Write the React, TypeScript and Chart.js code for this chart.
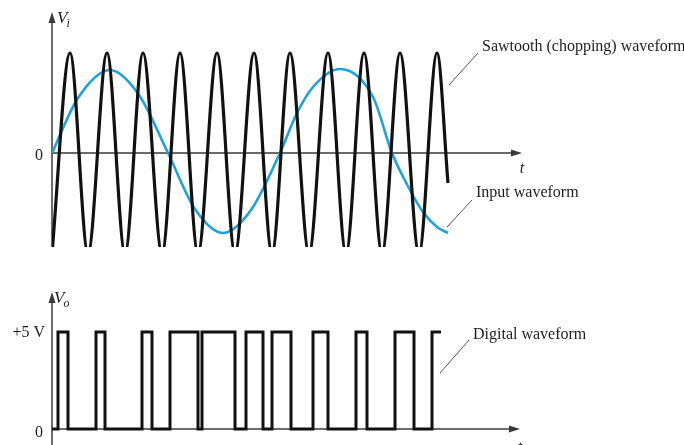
import React, { useEffect, useRef } from 'react';
import { Chart, registerables } from 'chart.js';

Chart.register(...registerables);

// Time axis in arbitrary units (origin at the vertical axis)
const sawTime = [0, 18, 36, 55, 73, 91, 110, 128, 146, 165, 183, 202, 220, 238, 257, 276, 294, 312, 330, 348, 367, 385, 396];
const sawValue = [-1, 1, -1, 1, -1, 1, -1, 1, -1, 1, -1, 1, -1, 1, -1, 1, -1, 1, -1, 1, -1, 1, -0.3];

const inputTime = [0, 26, 58, 87, 116, 143, 171, 199, 228, 245, 261, 288, 321, 340, 358, 371, 385, 396];
const inputValue = [0, 0.55, 0.83, 0.58, 0, -0.56, -0.8, -0.57, 0, 0.4, 0.66, 0.84, 0.56, 0, -0.37, -0.59, -0.74, -0.8];

const digitalTime = [0, 6, 16, 44, 53, 90, 100, 118, 146, 150, 183, 194, 211, 220, 239, 261, 276, 304, 315, 343, 362, 380, 389];
const digitalValue = [0, 5, 0, 5, 0, 5, 0, 5, 0, 5, 0, 5, 0, 5, 0, 5, 0, 5, 0, 5, 0, 5, 5];

const upperLabels = { sawtooth: 'Sawtooth (chopping) waveform', input: 'Input waveform', yName: 'V', ySub: 'i', xName: 't', zero: '0' };
const lowerLabels = { digital: 'Digital waveform', yName: 'V', ySub: 'o', xName: 't', zero: '0', high: '+5 V' };

const SERIF = '"Liberation Serif", "Times New Roman", serif';
const AXIS = '#3a3a3a';
const INK = '#1e1e1e';

function arrowHead(ctx: CanvasRenderingContext2D, x: number, y: number, dir: 'up' | 'right') {
  ctx.beginPath();
  if (dir === 'up') {
    ctx.moveTo(x, y);
    ctx.lineTo(x - 3.5, y + 11);
    ctx.lineTo(x + 3.5, y + 11);
  } else {
    ctx.moveTo(x, y);
    ctx.lineTo(x - 11, y - 3.5);
    ctx.lineTo(x - 11, y + 3.5);
  }
  ctx.closePath();
  ctx.fill();
}

function seg(ctx: CanvasRenderingContext2D, x1: number, y1: number, x2: number, y2: number) {
  ctx.beginPath();
  ctx.moveTo(x1, y1);
  ctx.lineTo(x2, y2);
  ctx.stroke();
}

function drawAxes(chart: any, xEnd: number) {
  const { ctx, scales } = chart;
  const x = scales.x, y = scales.y;
  const x0 = x.getPixelForValue(0);
  const y0 = y.getPixelForValue(0);
  ctx.save();
  ctx.strokeStyle = AXIS;
  ctx.fillStyle = AXIS;
  ctx.lineWidth = 1.5;
  seg(ctx, x0, y.bottom, x0, y.top + 6);
  arrowHead(ctx, x0, y.top, 'up');
  const xe = x.getPixelForValue(xEnd);
  seg(ctx, x0, y0, xe - 6, y0);
  arrowHead(ctx, xe, y0, 'right');
  ctx.restore();
}

function axisName(ctx: CanvasRenderingContext2D, x: number, y: number, name: string, sub: string) {
  ctx.font = `italic 17px ${SERIF}`;
  ctx.textAlign = 'left';
  ctx.textBaseline = 'middle';
  ctx.fillText(name, x, y);
  const w = ctx.measureText(name).width;
  ctx.font = `italic 12px ${SERIF}`;
  ctx.fillText(sub, x + w - 1, y + 5);
}

const upperDecor = {
  id: 'upperDecor',
  beforeDatasetsDraw(chart: any) {
    drawAxes(chart, 470);
  },
  afterDraw(chart: any) {
    const { ctx, scales } = chart;
    const x = scales.x, y = scales.y;
    const x0 = x.getPixelForValue(0);
    const y0 = y.getPixelForValue(0);
    ctx.save();
    ctx.fillStyle = INK;
    axisName(ctx, x0 + 5, y.top + 7, upperLabels.yName, upperLabels.ySub);
    ctx.font = `16px ${SERIF}`;
    ctx.textAlign = 'center';
    ctx.textBaseline = 'middle';
    ctx.fillText(upperLabels.zero, x0 - 13, y0 + 3);
    ctx.font = `italic 16px ${SERIF}`;
    ctx.fillText(upperLabels.xName, x.getPixelForValue(470), y0 + 16);
    ctx.font = `16px ${SERIF}`;
    ctx.textAlign = 'left';
    ctx.fillText(upperLabels.sawtooth, 482, 47);
    ctx.fillText(upperLabels.input, 476, 193);
    ctx.strokeStyle = '#555';
    ctx.lineWidth = 1;
    seg(ctx, 449, 85, 478, 53);
    seg(ctx, 447, 227, 472, 200);
    ctx.restore();
  },
};

const lowerDecor = {
  id: 'lowerDecor',
  beforeDatasetsDraw(chart: any) {
    drawAxes(chart, 468);
  },
  afterDraw(chart: any) {
    const { ctx, scales } = chart;
    const x = scales.x, y = scales.y;
    const x0 = x.getPixelForValue(0);
    const y0 = y.getPixelForValue(0);
    ctx.save();
    ctx.fillStyle = INK;
    axisName(ctx, x0 + 2, y.top + 7, lowerLabels.yName, lowerLabels.ySub);
    ctx.font = `16px ${SERIF}`;
    ctx.textAlign = 'right';
    ctx.textBaseline = 'middle';
    ctx.fillText(lowerLabels.high, x0 - 7, y.getPixelForValue(5) + 1);
    ctx.textAlign = 'center';
    ctx.fillText(lowerLabels.zero, x0 - 13, y0 + 4);
    ctx.font = `italic 16px ${SERIF}`;
    ctx.textBaseline = 'top';
    ctx.fillText(lowerLabels.xName, x.getPixelForValue(468), y0 + 11);
    ctx.font = `16px ${SERIF}`;
    ctx.textAlign = 'left';
    ctx.textBaseline = 'middle';
    ctx.fillText(lowerLabels.digital, 473, 65);
    ctx.strokeStyle = '#555';
    ctx.lineWidth = 1;
    seg(ctx, 440, 103, 469, 70);
    ctx.restore();
  },
};

function pts(t: number[], v: number[]) {
  return t.map((tt, i) => ({ x: tt, y: v[i] }));
}

export default function App() {
  const topRef = useRef<HTMLCanvasElement>(null);
  const botRef = useRef<HTMLCanvasElement>(null);

  useEffect(() => {
    const common: any = {
      responsive: false,
      animation: false,
      devicePixelRatio: 1,
      plugins: { legend: { display: false }, tooltip: { enabled: false } },
      elements: { point: { radius: 0 } },
    };
    const top = new Chart(topRef.current!, {
      type: 'line',
      data: {
        datasets: [
          {
            label: 'Sawtooth (chopping) waveform',
            data: pts(sawTime, sawValue),
            borderColor: '#111',
            borderWidth: 3.2,
            cubicInterpolationMode: 'monotone',
            fill: false,
            clip: 0,
          },
          {
            label: 'Input waveform',
            data: pts(inputTime, inputValue),
            borderColor: '#1ba3de',
            borderWidth: 2.6,
            cubicInterpolationMode: 'monotone',
            fill: false,
            clip: 0,
          },
        ],
      },
      options: {
        ...common,
        layout: { padding: { left: 52, right: 162, top: 12, bottom: 23 } },
        scales: {
          x: { type: 'linear', display: false, min: 0, max: 470 },
          y: { type: 'linear', display: false, min: -0.94, max: 1.41 },
        },
      },
      plugins: [upperDecor],
    } as any);
    const bot = new Chart(botRef.current!, {
      type: 'line',
      data: {
        datasets: [
          {
            label: 'Digital waveform',
            data: pts(digitalTime, digitalValue),
            borderColor: '#111',
            borderWidth: 3,
            stepped: 'before',
            borderJoinStyle: 'miter',
            borderCapStyle: 'butt',
            fill: false,
            clip: 4,
          },
        ],
      },
      options: {
        ...common,
        layout: { padding: { left: 52, right: 162, top: 22, bottom: 0 } },
        scales: {
          x: { type: 'linear', display: false, min: 0, max: 470 },
          y: { type: 'linear', display: false, min: -0.82, max: 7.06 },
        },
      },
      plugins: [lowerDecor],
    } as any);
    return () => {
      top.destroy();
      bot.destroy();
    };
  }, []);

  return (
    <div style={{ position: 'fixed', left: 0, top: 0, width: 684, height: 445, background: '#fff', overflow: 'hidden' }}>
      <canvas ref={topRef} width={684} height={270} style={{ display: 'block', width: 684, height: 270 }} />
      <canvas ref={botRef} width={684} height={175} style={{ display: 'block', width: 684, height: 175 }} />
    </div>
  );
}
